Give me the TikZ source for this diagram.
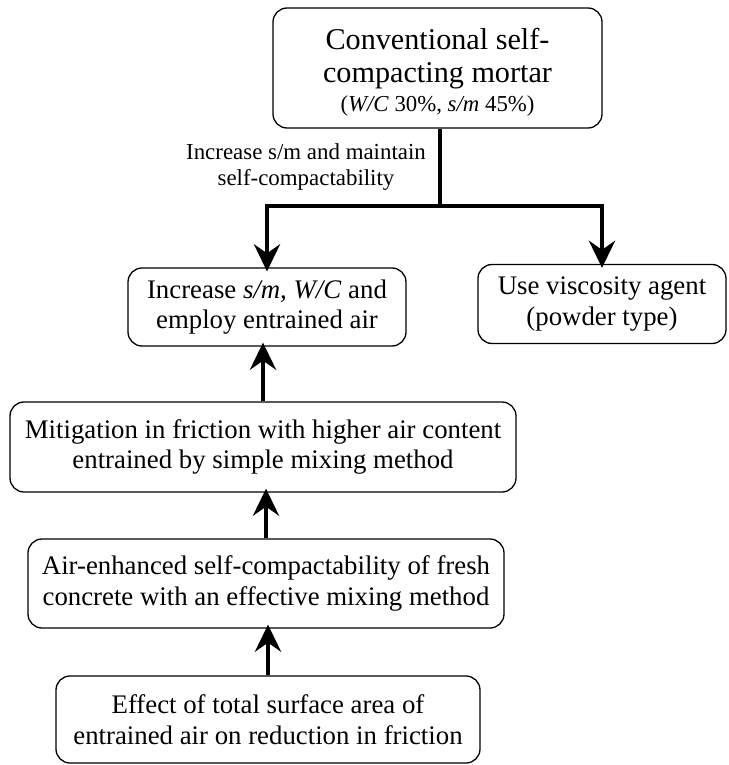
\documentclass[tikz,border=0pt]{standalone}
\usepackage{fontspec}
\setmainfont{Liberation Serif}
\usetikzlibrary{arrows.meta}
\begin{document}
\begin{tikzpicture}[x=1pt,y=-1pt,
  box/.style={draw, line width=1.3pt, rounded corners=14pt, align=center, inner sep=0pt,
    font=\fontsize{26.8}{30.5}\selectfont},
  title/.style={anchor=base, inner sep=0pt, font=\fontsize{30.2}{36}\selectfont},
  link/.style={line width=4.5pt, line join=miter},
  arr/.style={link, -{Stealth[length=27pt,width=26pt,inset=9pt]}}]
\useasboundingbox (0,0) rectangle (728,765);
\node[box, minimum width=329pt, minimum height=120pt] (top) at (437.5,68) {};
\node[title] (t1) at (437.5,50) {Conventional self-};
\node[title] (t2) at (437.5,83) {compacting mortar};
\node[title, font=\fontsize{22.8}{26}\selectfont] (t3) at (437.5,112) {(\textit{W/C} 30\%, \textit{s/m} 45\%)};
\node[box, minimum width=278pt, minimum height=78pt] (left) at (267,307)
  {Increase \textit{s/m, W/C} and\\employ entrained air};
\node[box, minimum width=248pt, minimum height=79pt] (right) at (602,304)
  {Use viscosity agent\\(powder type)};
\node[box, minimum width=506pt, minimum height=90pt] (mit) at (263,447)
  {Mitigation in friction with higher air content\\entrained by simple mixing method};
\node[box, minimum width=476pt, minimum height=89pt] (air) at (266,583.5)
  {Air-enhanced self-compactability of fresh\\concrete with an effective mixing method};
\node[box, minimum width=424pt, minimum height=87pt] (eff) at (268,719.5)
  {Effect of total surface area of\\entrained air on reduction in friction};
\node[align=center, font=\fontsize{22.9}{26}\selectfont] (lab) at (306,167)
  {Increase s/m and maintain\\self-compactability};
\coordinate (j) at (440,206);
\draw[link] (top.south -| j) -- (j);
\draw[arr] (j) -| ([yshift=-4pt]left.north);
\draw[arr] (j) -| ([yshift=-4pt]right.north);
\draw[arr] (mit.north) -- ([yshift=4pt]mit.north |- left.south);
\draw[arr] (air.north) -- ([yshift=4pt]air.north |- mit.south);
\draw[arr] (eff.north) -- ([yshift=4pt]eff.north |- air.south);
\end{tikzpicture}
\end{document}
